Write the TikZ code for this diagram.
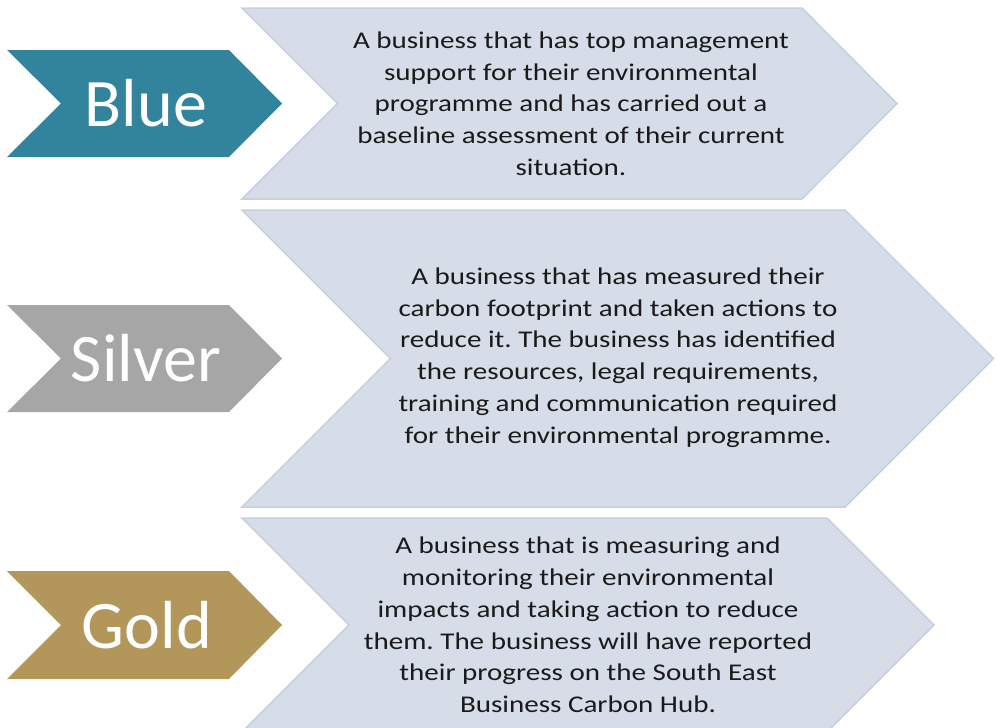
\documentclass[tikz,border=0pt]{standalone}
\usepackage{fontspec}
\setmainfont{Carlito}
\newfontfamily\descfont[FakeStretch=1.21]{Carlito}
\frenchspacing
\definecolor{cblue}{RGB}{49,132,155}
\definecolor{csilver}{RGB}{166,166,166}
\definecolor{cgold}{RGB}{179,150,90}
\definecolor{cpale}{RGB}{214,220,232}
\definecolor{cedge}{RGB}{200,208,224}
\definecolor{ctext}{RGB}{26,26,26}
\tikzset{
  tag/.style={fill=#1, draw=none},
  big/.style={fill=cpale, draw=cedge, line width=1.5pt, line join=miter},
  taglabel/.style={text=white, font=\fontsize{68}{76}\selectfont, inner sep=0pt, anchor=center},
  desc/.style={text=ctext, font=\descfont\fontsize{24}{31.7}\selectfont, align=center, inner sep=0pt, anchor=center}
}
\begin{document}
\begin{tikzpicture}[x=1pt,y=-1pt]
\useasboundingbox (0,0) rectangle (999,728);
% small tags
\path[tag=cblue] (7,50) -- (229,50) -- (282,103.5) -- (229,157) -- (7,157) -- (61,103.5) -- cycle;
\path[tag=csilver] (7,305) -- (229,305) -- (282,358.5) -- (229,412) -- (7,412) -- (61,358.5) -- cycle;
\path[tag=cgold] (7,571) -- (229,571) -- (282,625) -- (229,679) -- (7,679) -- (61,625) -- cycle;
% big chevrons
\path[big] (242,8) -- (802,8) -- (897,103.5) -- (802,199) -- (242,199) -- (337.5,103.5) -- cycle;
\path[big] (242,210) -- (845,210) -- (993.5,358.5) -- (845,507) -- (242,507) -- (390.5,358.5) -- cycle;
\path[big] (242,518) -- (827,518) -- (934,625) -- (827,732) -- (242,732) -- (349,625) -- cycle;
% labels
\node[taglabel] (lblue) at (146,103.5) {Blue};
\node[taglabel] (lsilver) at (146,358.5) {Silver};
\node[taglabel] (lgold) at (147,625) {Gold};
% descriptions
\node[desc] (dblue) at (571,103.5) {A business that has top management\\support for their environmental\\programme and has carried out a\\baseline assessment of their current\\situation.};
\node[desc] (dsilver) at (618,357.5) {A business that has measured their\\carbon footprint and taken actions to\\reduce it. The business has identified\\the resources, legal requirements,\\training and communication required\\for their environmental programme.};
\node[desc] (dgold) at (588,625) {A business that is measuring and\\monitoring their environmental\\impacts and taking action to reduce\\them. The business will have reported\\their progress on the South East\\Business Carbon Hub.};
\end{tikzpicture}
\end{document}
